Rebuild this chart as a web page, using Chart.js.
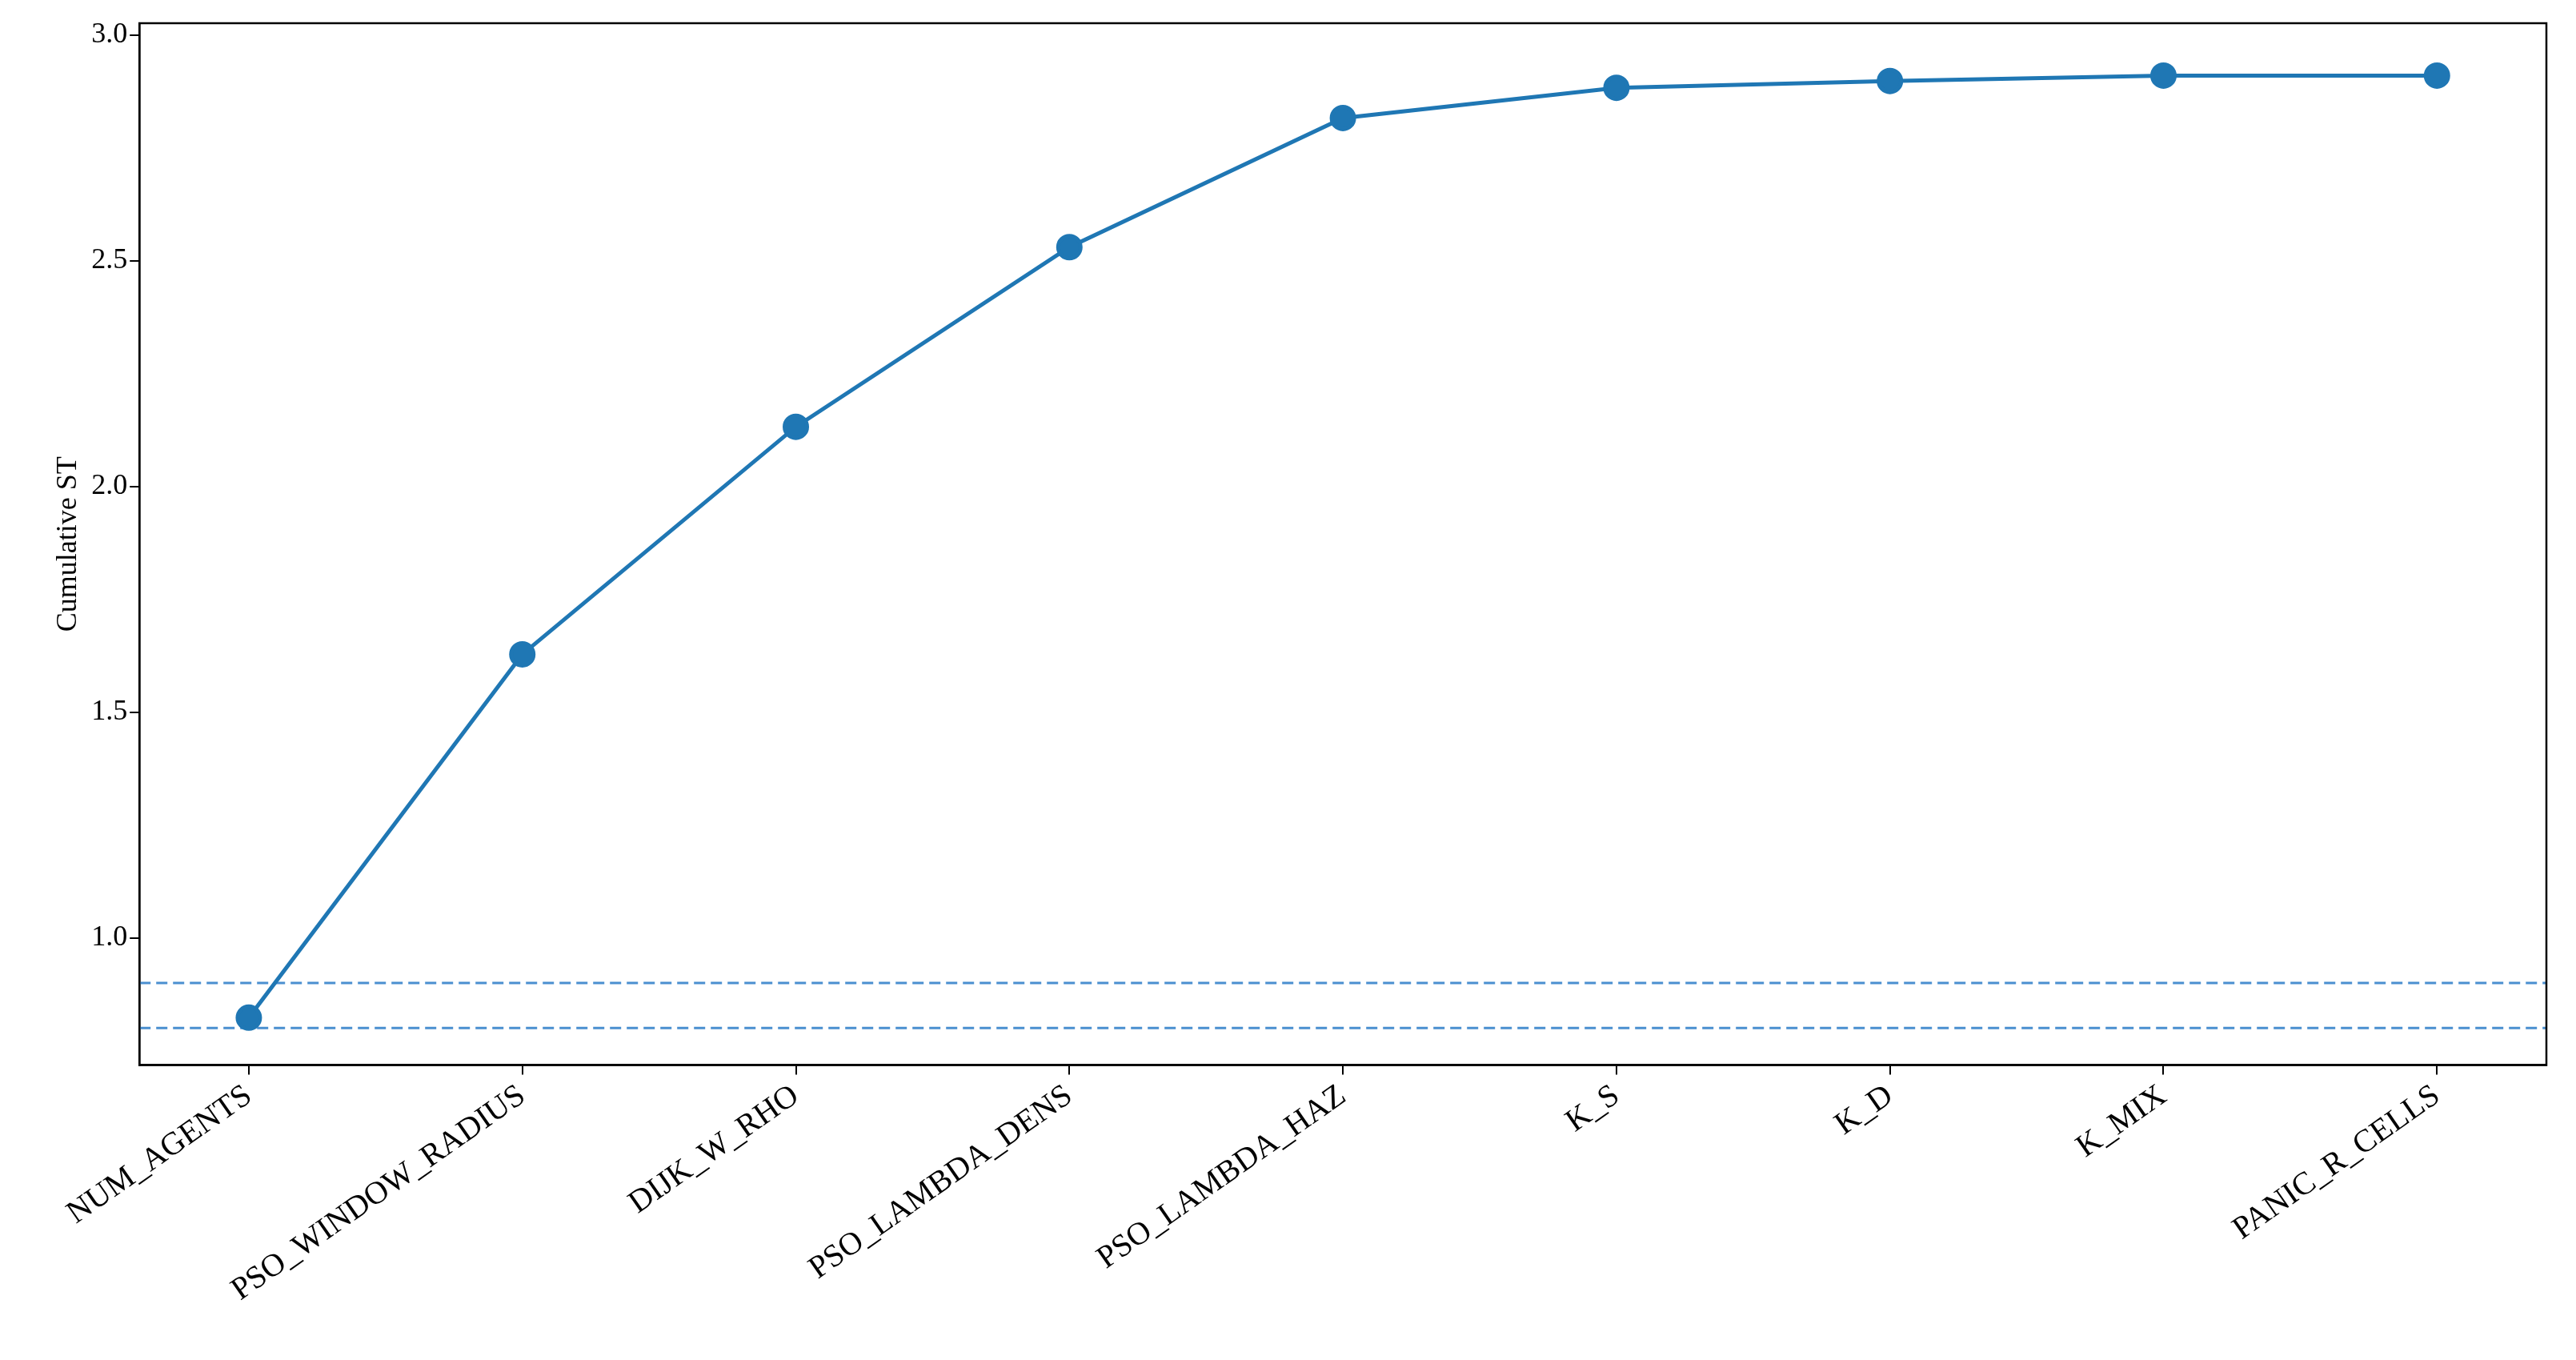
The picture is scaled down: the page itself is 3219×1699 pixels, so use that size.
<!DOCTYPE html>
<html>
<head>
<meta charset="utf-8">
<script src="https://cdn.jsdelivr.net/npm/chart.js@4.4.0/dist/chart.umd.min.js"></script>
<style>
  body { margin: 0; background: #fff; }
</style>
</head>
<body>
<canvas id="chart" width="3219" height="1699"></canvas>
<script>
// Data
const params = ['NUM_AGENTS', 'PSO_WINDOW_RADIUS', 'DIJK_W_RHO', 'PSO_LAMBDA_DENS',
    'PSO_LAMBDA_HAZ', 'K_S', 'K_D', 'K_MIX', 'PANIC_R_CELLS'];
const cumulativeST = [0.823, 1.628, 2.132, 2.530, 2.816, 2.883, 2.898, 2.910, 2.910];
const refLines = [0.9, 0.8];
const yTicks = [1.0, 1.5, 2.0, 2.5, 3.0];

const font = { family: 'Liberation Serif', size: 36 };
const xFont = { family: 'Liberation Serif', size: 40 };

// box around the plot area
const frame = {
    id: 'frame',
    afterDraw(chart) {
        const a = chart.chartArea, ctx = chart.ctx;
        ctx.save();
        ctx.strokeStyle = '#000';
        ctx.lineWidth = 2.5;
        ctx.strokeRect(a.left, a.top, a.right - a.left, a.bottom - a.top);
        ctx.restore();
    }
};

const datasets = [{
    data: cumulativeST.map((v, i) => ({ x: i, y: v })),
    borderColor: '#1f77b4',
    backgroundColor: '#1f77b4',
    borderWidth: 5,
    pointRadius: 14,
    pointHoverRadius: 14
}];
refLines.forEach(v => {
    datasets.push({
        data: [{ x: -0.4, y: v }, { x: 8.4, y: v }],
        borderColor: '#4a8fd0',
        borderWidth: 3,
        borderDash: [14, 7],
        pointRadius: 0
    });
});

new Chart(document.getElementById('chart').getContext('2d'), {
    type: 'line',
    data: { datasets },
    plugins: [frame],
    options: {
        responsive: false,
        devicePixelRatio: 1,
        animation: false,
        layout: { padding: { left: 60, top: 29, right: 37, bottom: 60 } },
        plugins: { legend: { display: false }, tooltip: { enabled: false } },
        scales: {
            x: {
                type: 'linear',
                min: -0.4,
                max: 8.4,
                afterBuildTicks: axis => { axis.ticks = params.map((p, i) => ({ value: i })); },
                ticks: {
                    font: xFont, color: '#000',
                    minRotation: 35, maxRotation: 35,
                    autoSkip: false,
                    callback: v => params[v]
                },
                grid: { drawOnChartArea: false, color: '#000', tickLength: 12, lineWidth: 2 },
                border: { color: '#000', width: 2.5 }
            },
            y: {
                min: 0.718,
                max: 3.026,
                afterBuildTicks: axis => { axis.ticks = yTicks.map(v => ({ value: v })); },
                ticks: { font, color: '#000', callback: v => v.toFixed(1) },
                grid: { drawOnChartArea: false, color: '#000', tickLength: 12, lineWidth: 2 },
                border: { color: '#000', width: 2.5 },
                title: { display: true, text: 'Cumulative ST', font, color: '#000' }
            }
        }
    }
});
</script>
</body>
</html>
